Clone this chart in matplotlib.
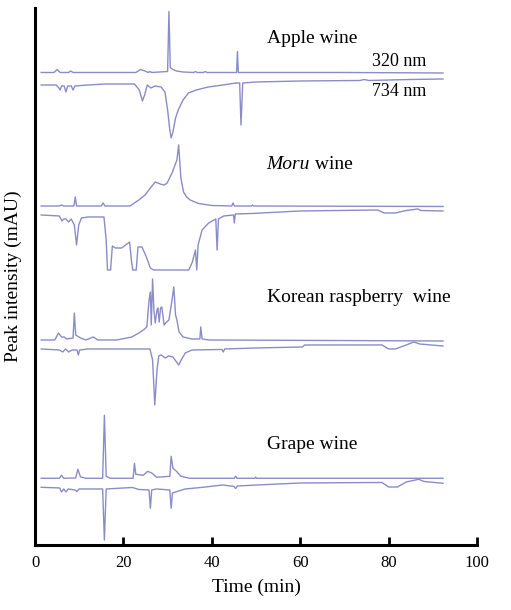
import matplotlib

matplotlib.use("Agg")
import matplotlib.pyplot as plt

plt.rcParams["font.family"] = ["Liberation Serif", "DejaVu Serif"]

# chromatogram traces: (time in min, intensity relative to the trace baseline)
apple_320 = [
    (1.4, 0), (4.3, 0), (5.0, 3), (5.7, 0), (7.6, 0), (8.1, 1.5), (8.6, 0),
    (22.8, 0), (23.9, 3), (24.9, 1.5), (25.6, 0), (26.0, 1), (26.4, 0),
    (30.0, 1), (30.3, 61), (30.6, 5), (31.2, 3), (32.0, 1.5), (33.5, 0.5),
    (35.9, 0), (36.3, 1), (36.7, 0), (38.1, 0), (38.5, 1), (38.9, 0),
    (45.6, 0), (45.8, 21), (46.0, 0), (70.0, 0), (92.3, -0.5),
]
apple_734 = [
    (1.4, -1), (4.8, -1), (5.4, -4), (5.7, -6), (6.0, -2), (6.6, -2), (7.0, -8),
    (7.4, -2), (8.2, -2), (8.6, -6), (9.0, -2), (12.0, -1), (16.0, 0), (22.5, 0),
    (23.6, -6), (24.3, -17), (24.8, -11), (25.4, -1), (26.2, -4), (27.2, -2),
    (28.5, -3), (29.4, -8), (30.0, -26), (30.5, -46), (30.8, -54), (31.2, -48),
    (31.8, -34), (32.4, -26), (33.5, -16), (34.7, -9), (36.5, -6), (39.2, -3),
    (42.5, -1), (45.5, 1), (46.3, 1), (46.6, -41), (47.0, 1), (50.0, 2),
    (60.0, 3), (73.5, 3.5), (74.5, 4.5), (75.5, 3.5), (85.0, 4.5), (92.3, 5),
]
moru_320 = [
    (1.4, 0), (5.5, 0), (6.0, 1), (6.5, 0), (8.8, 0), (9.1, 9), (9.4, 0),
    (15.0, 0), (15.4, 3), (15.8, 0), (21.5, 0), (22.5, 3), (23.5, 6),
    (24.9, 11), (26.1, 18), (27.2, 24), (28.3, 22), (29.2, 21), (29.9, 23),
    (31.0, 33), (32.1, 46), (32.5, 61), (33.0, 28), (33.6, 14), (34.3, 9),
    (35.1, 6), (37.0, 2.5), (40.0, 0.5), (44.5, 0), (44.8, 3), (45.1, 0),
    (49.0, 0), (49.2, 1), (49.4, 0), (92.3, -0.5),
]
moru_734 = [
    (1.4, 0), (5.5, -1), (6.1, -6), (6.5, -4), (7.0, -4), (7.6, -7), (8.2, -4),
    (8.9, -10), (9.4, -30), (9.9, -10), (10.5, -3), (12.0, -2), (15.6, -2),
    (16.1, -25), (16.4, -55), (17.1, -55), (17.5, -31), (18.2, -33), (19.6, -33),
    (21.4, -27), (21.8, -45), (22.1, -55), (22.9, -55), (23.3, -32), (24.2, -32),
    (25.2, -42), (26.1, -53), (26.8, -55), (34.8, -55), (35.6, -47), (36.3, -35),
    (36.6, -55), (36.9, -30), (37.8, -15), (39.3, -8), (40.9, -4), (41.2, -35),
    (41.5, -4), (42.7, -1), (44.9, 0), (45.1, -8), (45.3, 1), (49.1, 1.5),
    (60.0, 4), (77.5, 5), (79.0, 2), (81.5, 2), (84.0, 4.5), (86.6, 6),
    (87.2, 4.5), (92.3, 4),
]
korean_320 = [
    (1.4, 0), (4.5, 0), (5.3, 7), (6.0, 3), (6.6, 3), (7.2, 1), (8.6, 2),
    (8.9, 27), (9.2, 5), (10.3, 2), (11.5, 0), (13.2, 3), (14.2, 0), (18.5, 0),
    (21.9, 3), (23.5, 7), (24.5, 10), (25.3, 13), (25.8, 40), (26.1, 48),
    (26.3, 15), (26.6, 61), (26.9, 30), (27.2, 17), (27.6, 30), (27.8, 32),
    (28.1, 18), (28.4, 32), (28.7, 33), (29.2, 15), (29.8, 18), (30.3, 20),
    (31.0, 40), (31.4, 53), (31.8, 25), (32.1, 20), (32.6, 8), (33.5, 3),
    (35.5, 1), (37.3, 1), (37.5, 13), (37.8, 1), (39.5, 0), (92.3, -1),
]
korean_734 = [
    (1.4, 0), (5.5, -1), (6.3, -3), (6.9, 0), (7.6, -3), (8.4, -1), (9.5, -1),
    (9.8, -6), (10.1, -1), (12.0, 0), (26.0, 0), (26.6, -11), (27.1, -56),
    (27.6, -21), (28.0, -7), (28.5, -6), (29.5, -9), (30.2, -7), (31.2, -8),
    (32.5, -16), (33.2, -10), (34.0, -4), (35.5, -1), (42.3, -0.5), (42.6, -3),
    (42.9, 0), (50.0, 1), (60.5, 2), (61.0, 4), (74.0, 4), (78.5, 4),
    (80.0, 0), (81.5, 0), (84.0, 4), (85.7, 7), (87.0, 5), (92.3, 3),
]
grape_320 = [
    (1.4, 0), (5.5, 0), (6.0, 3), (6.5, 0), (9.2, 0.3), (9.7, 9), (10.3, 1.3),
    (11.5, 0), (15.3, 0), (15.7, 63), (16.1, 2), (17.0, 0), (22.2, 0),
    (22.5, 15), (22.8, 4), (24.5, 3), (25.5, 7), (26.5, 5), (27.5, 1),
    (30.5, 2), (30.8, 22), (31.2, 10), (32.0, 7), (33.0, 2), (35.0, 0),
    (45.1, 0), (45.4, 2), (45.7, 0), (49.7, 0), (49.9, 1), (50.1, 0), (92.3, 0),
]
grape_734 = [
    (1.4, 0), (5.6, -0.7), (6.0, -4.7), (6.5, -1.7), (7.0, -4.7), (7.5, -1.7),
    (9.0, -2.7), (9.5, -4.2), (10.0, -1.7), (15.3, -1.7), (15.7, -52.7),
    (16.1, -1.7), (22.0, -0.2), (23.5, -2.2), (25.8, -2.7), (26.1, -21),
    (26.4, -2.7), (27.5, -1.7), (30.5, -2.7), (30.8, -21), (31.1, -5.7),
    (32.5, -3.7), (34.0, -1.7), (38.0, 0), (42.5, 2.3), (45.0, 0.8),
    (45.4, -1.2), (45.8, 1.3), (55.0, 3.3), (60.0, 4.3), (78.5, 4.8),
    (80.0, 0.3), (82.0, 0.3), (84.0, 5.3), (86.8, 8), (88.0, 5.8), (92.3, 4),
]

wines = ["Apple wine", "Moru", "Korean raspberry  wine", "Grape wine"]
x_ticks = [0, 20, 40, 60, 80, 100]

# vertical stacking of the traces
traces = [
    (apple_320, 472.5), (apple_734, 461.0),
    (moru_320, 339.0), (moru_734, 330.0),
    (korean_320, 205.0), (korean_734, 196.0),
    (grape_320, 66.7), (grape_734, 57.7),
]
label_y = [506, 380, 247, 100]

fig = plt.figure(figsize=(5.11, 6.10), dpi=100)
ax = fig.add_axes([0.0685, 0.1066, 0.865, 0.8803])

line_color = "#8a8cca"
for points, offset in traces:
    t = [p[0] for p in points]
    v = [p[1] + offset for p in points]
    ax.plot(t, v, color=line_color, lw=1.0)

for name, y in zip(wines, label_y):
    if name == "Moru":
        # species name is set in italics, the rest upright
        txt = ax.text(52.3, y, name, fontsize=14, style="italic", ha="left", va="center")
        ax.annotate(" wine", xy=(1, 0), xycoords=txt, fontsize=14, ha="left", va="bottom")
    else:
        ax.text(52.5, y, name, fontsize=14, ha="left", va="center")
ax.text(76.3, 483, "320 nm", fontsize=13, ha="left", va="center")
ax.text(76.3, 453, "734 nm", fontsize=13, ha="left", va="center")

ax.set_xlim(0, 100)
ax.set_ylim(0, 537)
ax.set_xticks(x_ticks)
ax.set_yticks([])
ax.tick_params(axis="x", direction="in", length=6, width=2, labelsize=12, pad=7)
ax.spines["top"].set_visible(False)
ax.spines["right"].set_visible(False)
ax.spines["left"].set_linewidth(2.2)
ax.spines["bottom"].set_linewidth(2.2)
ax.set_xlabel("Time (min)", fontsize=14, labelpad=6)
ax.set_ylabel("Peak intensity (mAU)", fontsize=14)
ax.yaxis.set_label_coords(-0.03, 0.5)

fig.savefig("out.png", dpi=100)
